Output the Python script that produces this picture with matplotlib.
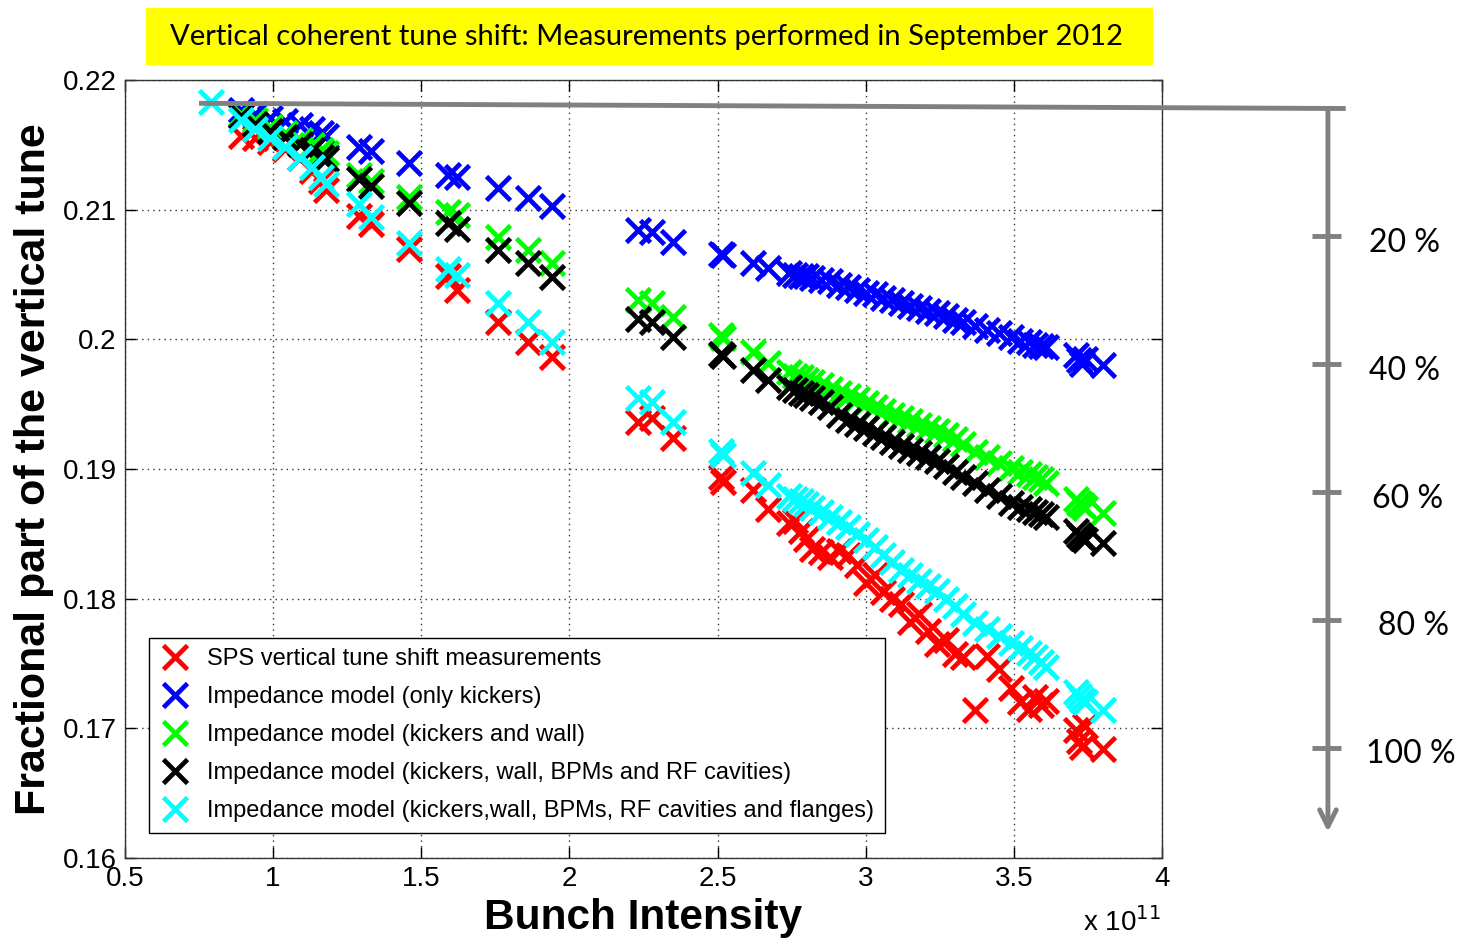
import numpy as np
import matplotlib.pyplot as plt
from matplotlib.patches import Rectangle

# bunch intensity [1e11 p/b], shared by measurement and model points
intensity = [0.89, 0.94, 0.99, 1.04, 1.09, 1.13, 1.16, 1.18,
             1.29, 1.33,
             1.46,
             1.59, 1.62,
             1.76, 1.86, 1.94,
             2.23, 2.28, 2.35,
             2.51, 2.52, 2.62, 2.67,
             2.74, 2.76, 2.78, 2.80, 2.82, 2.85, 2.88, 2.91, 2.94, 2.97,
             3.00, 3.03, 3.06, 3.09, 3.12, 3.15, 3.18, 3.21, 3.24, 3.27,
             3.30, 3.33, 3.37, 3.41, 3.45, 3.49, 3.52, 3.55, 3.57, 3.59, 3.61,
             3.71, 3.72, 3.73, 3.74, 3.80]

tune_meas = [0.2157, 0.2155, 0.2152, 0.2147, 0.2140, 0.2130, 0.2122, 0.2115,
             0.2095, 0.2089,
             0.2070,
             0.2049, 0.2038,
             0.2013, 0.1998, 0.1986,
             0.1936, 0.1939, 0.1924,
             0.1894, 0.1890, 0.1884, 0.1869,
             0.1858, 0.1860, 0.1852, 0.1846, 0.1838, 0.1836, 0.1832, 0.1837, 0.1834, 0.1826,
             0.1812, 0.1818, 0.1805, 0.1800, 0.1796, 0.1782, 0.1788, 0.1775, 0.1765, 0.1768,
             0.1757, 0.1755, 0.1714, 0.1756, 0.1746, 0.1731, 0.1720, 0.1715, 0.1724, 0.1718, 0.1721,
             0.1699, 0.1690, 0.1686, 0.1702, 0.1684]

tune_kickers = [0.2177, 0.2174, 0.2171, 0.2168, 0.2165, 0.2162, 0.2159, 0.2157,
                0.2148, 0.2145,
                0.2136,
                0.2127, 0.2125,
                0.2117, 0.2109, 0.2103,
                0.2084, 0.2083, 0.2075,
                0.2066, 0.2065, 0.2059, 0.2055,
                0.2051, 0.2050, 0.2049, 0.2049, 0.2047, 0.2046, 0.2045, 0.2042, 0.2040, 0.2038,
                0.2036, 0.2035, 0.2032, 0.2030, 0.2028, 0.2026, 0.2024, 0.2022, 0.2020, 0.2018,
                0.2015, 0.2013, 0.2010, 0.2007, 0.2005, 0.2002, 0.1999, 0.1998, 0.1996, 0.1995, 0.1994,
                0.1988, 0.1984, 0.1981, 0.1985, 0.1980]

tune_wall = [0.2174, 0.2169, 0.2164, 0.2159, 0.2154, 0.2150, 0.2146, 0.2144,
             0.2127, 0.2122,
             0.2110,
             0.2098, 0.2096,
             0.2079, 0.2069, 0.2059,
             0.2030, 0.2028, 0.2017,
             0.2003, 0.2001, 0.1990, 0.1982,
             0.1975, 0.1972, 0.1971, 0.1969, 0.1967, 0.1965, 0.1962, 0.1959, 0.1956, 0.1954,
             0.1951, 0.1948, 0.1945, 0.1942, 0.1939, 0.1937, 0.1934, 0.1932, 0.1929, 0.1926,
             0.1923, 0.1919, 0.1913, 0.1909, 0.1905, 0.1901, 0.1898, 0.1896, 0.1894, 0.1892, 0.1889,
             0.1877, 0.1874, 0.1872, 0.1870, 0.1866]

tune_bpm_rf = [0.2172, 0.2166, 0.2161, 0.2156, 0.2151, 0.2146, 0.2141, 0.2139,
               0.2124, 0.2118,
               0.2105,
               0.2090, 0.2085,
               0.2069, 0.2059, 0.2048,
               0.2016, 0.2013, 0.2002,
               0.1989, 0.1987, 0.1976, 0.1969,
               0.1963, 0.1961, 0.1959, 0.1957, 0.1955, 0.1952, 0.1948, 0.1942, 0.1938, 0.1935,
               0.1932, 0.1928, 0.1925, 0.1921, 0.1918, 0.1915, 0.1912, 0.1909, 0.1906, 0.1902,
               0.1898, 0.1894, 0.1889, 0.1884, 0.1879, 0.1874, 0.1871, 0.1869, 0.1867, 0.1865, 0.1863,
               0.1852, 0.1849, 0.1847, 0.1845, 0.1843]

tune_flanges = [0.2169, 0.2162, 0.2155, 0.2148, 0.2140, 0.2133, 0.2125, 0.2120,
                0.2104, 0.2094,
                0.2074,
                0.2054, 0.2050,
                0.2028, 0.2013, 0.1998,
                0.1955, 0.1952, 0.1936,
                0.1914, 0.1911, 0.1897, 0.1888,
                0.1879, 0.1877, 0.1875, 0.1873, 0.1870, 0.1867, 0.1863, 0.1859, 0.1855, 0.1850,
                0.1845, 0.1840, 0.1834, 0.1828, 0.1822, 0.1818, 0.1814, 0.1810, 0.1806, 0.1800,
                0.1794, 0.1788, 0.1781, 0.1777, 0.1771, 0.1766, 0.1762, 0.1758, 0.1755, 0.1751, 0.1747,
                0.1728, 0.1725, 0.1722, 0.1720, 0.1714]

# lowest-intensity point, only in the full model
flanges_extra_N = [0.79]
flanges_extra_q = [0.2183]

labels = ['SPS vertical tune shift measurements',
          'Impedance model (only kickers)',
          'Impedance model (kickers and wall)',
          'Impedance model (kickers, wall, BPMs and RF cavities)',
          'Impedance model (kickers,wall, BPMs, RF cavities and flanges)']

# tune reduction scale on the right: unperturbed tune and full shift
tune_start = 0.2178
tune_end = 0.1685
percent_steps = [20, 40, 60, 80, 100]
percent_dx = [0.26, 0.26, 0.27, 0.29, 0.28]

fig = plt.figure(figsize=(14.6, 9.4), dpi=100)
ax = fig.add_axes([0.0856, 0.0872, 0.7103, 0.8277])

ms = 17
mew = 3.4
ax.plot(intensity, tune_meas, 'x', color='#ff0000', ms=ms, mew=mew, label=labels[0])
ax.plot(intensity, tune_kickers, 'x', color='#0000ff', ms=ms, mew=mew, label=labels[1])
ax.plot(intensity, tune_wall, 'x', color='#00ff00', ms=ms, mew=mew, label=labels[2])
ax.plot(intensity, tune_bpm_rf, 'x', color='#000000', ms=ms, mew=mew, label=labels[3])
ax.plot(intensity, tune_flanges, 'x', color='#00ffff', ms=ms, mew=mew, label=labels[4])
ax.plot(flanges_extra_N, flanges_extra_q, 'x', color='#00ffff', ms=ms, mew=mew)

ax.set_xlim(0.5, 4.0)
ax.set_ylim(0.16, 0.22)
ax.set_xticks([0.5, 1, 1.5, 2, 2.5, 3, 3.5, 4])
ax.set_xticklabels(['0.5', '1', '1.5', '2', '2.5', '3', '3.5', '4'])
ax.set_yticks([0.16, 0.17, 0.18, 0.19, 0.2, 0.21, 0.22])
ax.set_yticklabels(['0.16', '0.17', '0.18', '0.19', '0.2', '0.21', '0.22'])
ax.tick_params(direction='in', length=8, width=1, top=True, right=True,
               labelsize=20, pad=6)
for lab in ax.get_xticklabels() + ax.get_yticklabels():
    lab.set_family(['Liberation Sans', 'DejaVu Sans'])
ax.grid(True, color='#333333', linestyle=(0, (1, 3)), linewidth=1)
for sp in ax.spines.values():
    sp.set_linewidth(1)
    sp.set_color('#333333')

lfont = ['Liberation Sans', 'DejaVu Sans']
ax.set_xlabel('Bunch Intensity', fontsize=30.5, fontweight='bold', family=lfont, labelpad=4)
ax.set_ylabel('Fractional part of the vertical tune', fontsize=31, fontweight='bold',
              family=lfont, labelpad=6)

leg = ax.legend(loc='lower left', bbox_to_anchor=(0.012, 0.017), fancybox=False,
                edgecolor='black', framealpha=1, prop={'family': 'Liberation Sans', 'size': 17},
                handlelength=1.3, handletextpad=0.7, labelspacing=0.68, borderpad=0.45,
                markerscale=1.0)
leg.get_frame().set_linewidth(1)

fig.text(0.795, 0.003, r'x 10$^{11}$', ha='right', va='bottom', fontsize=20,
         family=['Liberation Sans', 'DejaVu Sans'])

# title banner
fig.patches.append(Rectangle((146 / 1460, 1 - 65 / 940), (1153 - 146) / 1460, 57 / 940,
                             transform=fig.transFigure, facecolor='#ffff00', edgecolor='none'))
fig.text(647 / 1460, 1 - 37 / 940,
         'Vertical coherent tune shift: Measurements performed in September 2012',
         ha='center', va='center', fontsize=21, family=['Lato', 'DejaVu Sans'])

# tune-shift percentage scale drawn beside the axes
grey = '#808080'
x_arrow = 4.56
ax.plot([0.75, 4.62], [tune_start + 0.0004, tune_start], color=grey, lw=3.5,
        clip_on=False, solid_capstyle='butt', zorder=5)
ax.annotate('', xy=(x_arrow, 0.1618), xytext=(x_arrow, tune_start),
            arrowprops=dict(arrowstyle='->', color=grey, lw=3.5, mutation_scale=30),
            annotation_clip=False)
for p, dx in zip(percent_steps, percent_dx):
    q = tune_start - (tune_start - tune_end) * p / 100.0
    ax.plot([x_arrow - 0.055, x_arrow + 0.045], [q, q], color=grey, lw=3.5,
            clip_on=False, solid_capstyle='butt')
    ax.text(x_arrow + dx, q - 0.0005, '%d %%' % p, ha='center', va='center',
            fontsize=23, family=['Lato', 'DejaVu Sans'])

fig.savefig('out.png', dpi=100)
